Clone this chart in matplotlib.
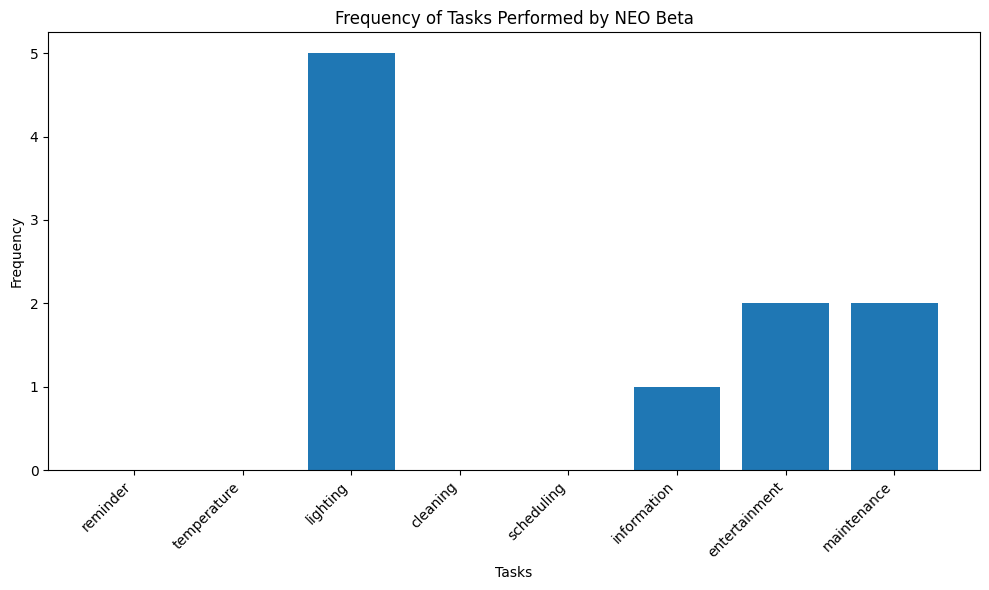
import matplotlib
matplotlib.use("Agg")
from matplotlib import pyplot as plt

tasks = ["reminder", "temperature", "lighting", "cleaning",
         "scheduling", "information", "entertainment", "maintenance"]
counts = [0, 0, 5, 0, 0, 1, 2, 2]

fig, ax = plt.subplots(figsize=(10, 6), dpi=100)
ax.bar(tasks, counts, color="#1f77b4")
ax.set_title("Frequency of Tasks Performed by NEO Beta")
ax.set_xlabel("Tasks")
ax.set_ylabel("Frequency")
plt.xticks(rotation=45, ha="right")
plt.tight_layout()
plt.savefig("out.png", bbox_inches="tight")
